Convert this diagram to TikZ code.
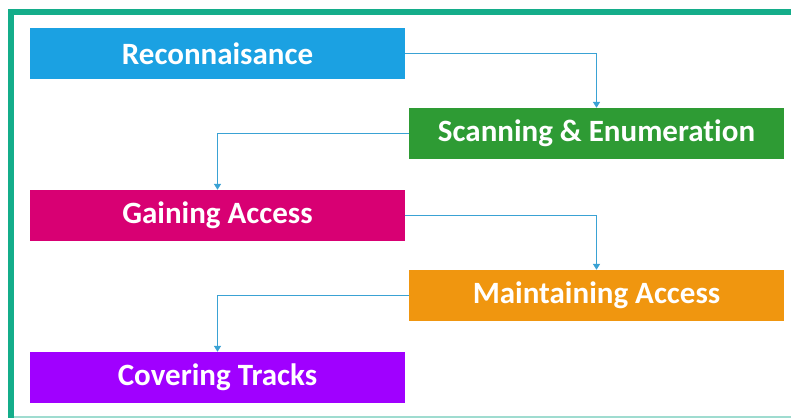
\documentclass[tikz,border=0pt]{standalone}
\usepackage{fontspec}
\setmainfont{Carlito}[RawFeature={-liga;-clig;-dlig}]
\usetikzlibrary{arrows.meta}
\definecolor{frameteal}{HTML}{14AD8A}
\definecolor{lightteal}{HTML}{9FDCD0}
\definecolor{cblue}{HTML}{1BA1E2}
\definecolor{cgreen}{HTML}{2E9B34}
\definecolor{cmagenta}{HTML}{D80073}
\definecolor{corange}{HTML}{F0960F}
\definecolor{cpurple}{HTML}{A000FF}
\definecolor{linkblue}{HTML}{3AA2D4}
\tikzset{
  phase/.style={fill=#1, draw=none, minimum width=375pt, minimum height=51pt,
    inner sep=0pt, text=white, font=\fontsize{31}{36}\selectfont\bfseries},
  link/.style={draw=linkblue, line width=1.4pt,
    -{Triangle[width=7pt,length=6pt]}}
}
\begin{document}
\begin{tikzpicture}[x=1pt,y=-1pt]
\useasboundingbox (0,0) rectangle (791,418);
\fill[white] (0,0) rectangle (791,418);
% frame
\fill[frameteal] (8,9) rectangle (791,15);
\fill[frameteal] (8,9) rectangle (14,418);
\fill[lightteal] (14,415.5) rectangle (791,417.5);
% phases
\node[phase=cblue]    (rec)  at (217.5,53.5)  {Reconnaisance};
\node[phase=cgreen]   (scan) at (596.5,133.5) {Scanning \& Enumeration};
\node[phase=cmagenta] (gain) at (217.5,215.5) {Gaining Access};
\node[phase=corange]  (main) at (596.5,295.5) {Maintaining Access};
\node[phase=cpurple]  (cov)  at (217.5,377.5) {Covering Tracks};
% connectors
\draw[link] (rec.east)  -| (scan.north);
\draw[link] (scan.west) -| (gain.north);
\draw[link] (gain.east) -| (main.north);
\draw[link] (main.west) -| (cov.north);
\end{tikzpicture}
\end{document}
